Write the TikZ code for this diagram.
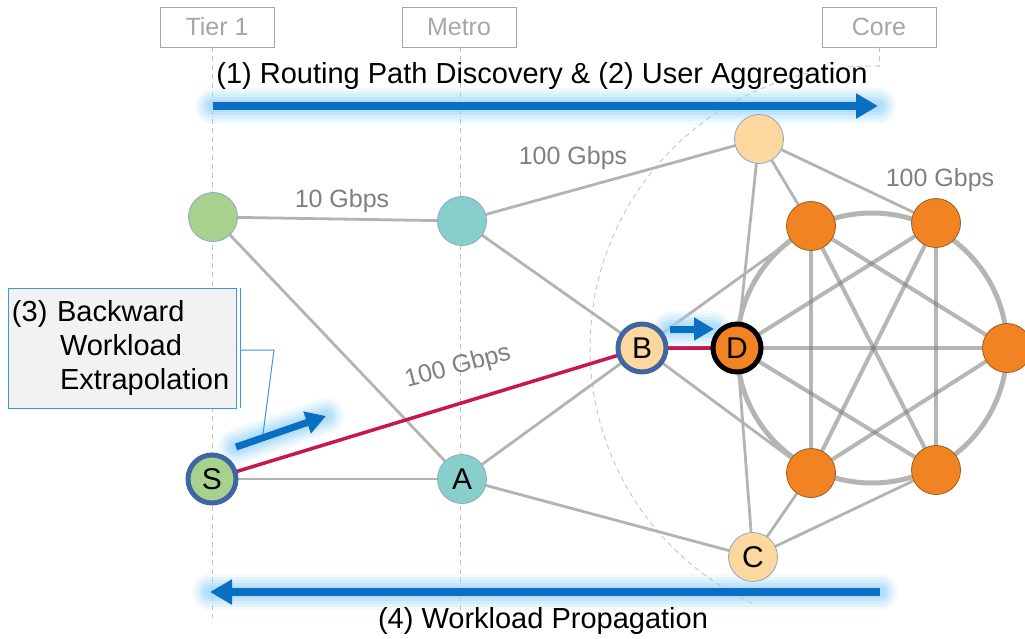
\documentclass[tikz,border=0pt]{standalone}
\usepackage{fontspec}
\setmainfont{Liberation Sans}
\usetikzlibrary{arrows.meta}

\definecolor{linkgray}{HTML}{B3B3B3}
\definecolor{coregray}{HTML}{7A7A7A}
\definecolor{ringgray}{HTML}{B5B5B5}
\definecolor{guidegray}{HTML}{C4C4C4}
\definecolor{tiergray}{HTML}{A6A6A6}
\definecolor{labelgray}{HTML}{7F7F7F}
\definecolor{leafgreen}{HTML}{A9D18E}
\definecolor{metroteal}{HTML}{88CFCC}
\definecolor{paleorange}{HTML}{FCD79E}
\definecolor{coreorange}{HTML}{F28323}
\definecolor{orangerim}{HTML}{9C5A1C}
\definecolor{thinrim}{HTML}{8EA6C4}
\definecolor{rimblue}{HTML}{3F66A3}
\definecolor{pathred}{HTML}{C8164F}
\definecolor{flowblue}{HTML}{0A6FC2}
\definecolor{glowblue}{HTML}{9AD5F7}
\definecolor{calloutblue}{HTML}{3A9AD9}
\definecolor{calloutfill}{HTML}{F2F2F2}

\tikzset{
  vertex/.style={circle, minimum size=49pt, inner sep=0pt, draw=thinrim,
    line width=0.8pt, font=\fontsize{30}{30}\selectfont},
  corenode/.style={vertex, fill=coreorange, draw=orangerim},
  link/.style={draw=linkgray, line width=2.8pt},
  coreline/.style={draw=coregray, line width=4pt, opacity=0.55},
  ring/.style={draw=ringgray, line width=5pt},
  redpath/.style={draw=pathred, line width=3.5pt},
  guide/.style={draw=guidegray, line width=0.9pt, dash pattern=on 5pt off 4pt},
  tierbox/.style={draw=tiergray, line width=0.9pt, text=tiergray,
    minimum width=114pt, minimum height=40pt, inner sep=0pt,
    font=\fontsize{25}{26}\selectfont},
  speed/.style={text=labelgray, inner sep=0pt, font=\fontsize{25}{26}\selectfont},
  caption/.style={text=black, inner sep=0pt, font=\fontsize{29}{34}\selectfont},
  flowarrow/.style={draw=flowblue, line width=8pt,
    -{Triangle[length=22pt, width=24pt]}},
  smallflow/.style={draw=flowblue, line width=7pt,
    -{Triangle[length=20pt, width=22pt]}},
}

% soft halo under a flow arrow
\newcommand{\halo}[2]{%
  \foreach \w/\o in {36/0.12, 30/0.16, 24/0.22, 18/0.32, 12/0.4}{%
    \draw[draw=glowblue, line width=\w pt, opacity=\o, line cap=round] (#1) -- (#2);}%
}

\begin{document}
\begin{tikzpicture}[x=1pt, y=-1pt]
\useasboundingbox (0,0) rectangle (1025,638);
\clip (0,0) rectangle (1025,638);

% tier headers and their guide lines
\node[tierbox] (tier1) at (217,27) {Tier 1};
\node[tierbox] (metro) at (459,27) {Metro};
\node[tierbox] (core)  at (879,27) {Core};
\coordinate (tier1end) at (212,618);
\coordinate (tier1top) at (212,47);
\coordinate (metroend) at (460,618);
\coordinate (metrotop) at (460,47);
\coordinate (arctop) at (879.9,66.1);
\draw[guide] (tier1top) -- (tier1end);
\draw[guide] (metrotop) -- (metroend);
\draw[guide] (core.south -| arctop) -- (arctop);
\draw[guide] (arctop) arc[start angle=271.6, end angle=115, radius=282];

% node positions
\coordinate (pg1) at (213,217);
\coordinate (pm1) at (462,221);
\coordinate (ps)  at (212,479);
\coordinate (pa)  at (462,479);
\coordinate (pb)  at (642,348);
\coordinate (pd)  at (737,348);
\coordinate (pt)  at (759,139);
\coordinate (pc)  at (753,557);
\coordinate (ptl) at (811,226);
\coordinate (ptr) at (936,223);
\coordinate (pr)  at (1007,348);
\coordinate (pbl) at (811,473);
\coordinate (pbr) at (936,470);

% invisible placeholders so links can be drawn first
\foreach \n in {g1,m1,s,a,b,d,t,c,tl,tr,r,bl,br}{
  \node[circle, minimum size=49pt, inner sep=0pt] (\n) at (p\n) {};
}

% access and metro links
\draw[link] (g1) -- (m1);
\draw[link] (g1) -- (a);
\draw[link] (m1) -- (t);
\draw[link] (m1) -- (b);
\draw[link] (s) -- (a);
\draw[link] (a) -- (b);
\draw[link] (a) -- (c);
\draw[link] (b) -- (tl);
\draw[link] (b) -- (bl);
\draw[link] (t) -- (tl);
\draw[link] (t) -- (tr);
\draw[link] (t) -- (d);
\draw[link] (d) -- (c);
\draw[link] (c) -- (bl);
\draw[link] (c) -- (br);

% core ring and full mesh
\draw[ring] (872,348) circle[radius=135];
\draw[coreline] (d) -- (tr);
\draw[coreline] (d) -- (r);
\draw[coreline] (d) -- (br);
\draw[coreline] (tl) -- (r);
\draw[coreline] (tl) -- (br);
\draw[coreline] (tl) -- (bl);
\draw[coreline] (tr) -- (br);
\draw[coreline] (tr) -- (bl);
\draw[coreline] (r) -- (bl);

% selected route
\draw[redpath] (s) -- (b);
\draw[redpath] (b) -- (d);

% halos of the flow arrows
\coordinate (topA1) at (213,106);
\coordinate (topA2) at (878,106);
\coordinate (botA1) at (880,592);
\coordinate (botA2) at (210,592);
\coordinate (sA1) at (236,447);
\coordinate (sA2) at (326,416);
\coordinate (bA1) at (670,329);
\coordinate (bA2) at (714,329);
\halo{topA1}{topA2}
\halo{botA1}{botA2}
\halo{sA1}{sA2}
\halo{bA1}{bA2}

% vertices
\node[vertex, fill=leafgreen] (G1) at (pg1) {};
\node[vertex, fill=metroteal] (M1) at (pm1) {};
\node[vertex, fill=leafgreen, draw=rimblue, line width=5pt, minimum size=48pt] (S) at (ps) {S};
\node[vertex, fill=metroteal] (A) at (pa) {A};
\node[vertex, fill=paleorange, draw=rimblue, line width=5pt, minimum size=48pt] (B) at (pb) {B};
\node[vertex, fill=coreorange, draw=black, line width=5pt, minimum size=48pt] (D) at (pd) {D};
\node[vertex, fill=paleorange] (T) at (pt) {};
\node[vertex, fill=paleorange] (C) at (pc) {C};
\node[corenode] (TL) at (ptl) {};
\node[corenode] (TR) at (ptr) {};
\node[corenode] (R)  at (pr) {};
\node[corenode] (BL) at (pbl) {};
\node[corenode] (BR) at (pbr) {};

% link capacities
\node[speed] (cap10) at (342,201) {10 Gbps};
\node[speed] (capmt) at (573,158) {100 Gbps};
\node[speed] (capcore) at (940,180) {100 Gbps};
\node[speed, rotate=15] (capsb) at (458,367) {100 Gbps};

% callout
\node[draw=calloutblue, fill=calloutfill, line width=1pt, minimum width=228pt,
  minimum height=120pt, text width=220pt, align=left, inner xsep=4pt,
  caption, inner sep=4pt] (callout) at (122,348)
  {(3) Backward\\\hspace*{48pt}Workload\\\hspace*{48pt}Extrapolation};
\coordinate (brtop) at (240,288);
\coordinate (brbot) at (240,408);
\coordinate (brmid) at (240,350);
\coordinate (elbow) at (274,350);
\coordinate (tipc) at (263,434);
\draw[calloutblue, line width=1pt] (brtop) -- (brbot);
\draw[calloutblue, line width=1pt] (brmid) -- (elbow) -- (tipc);

% flow arrows
\draw[flowarrow] (topA1) -- (topA2);
\draw[flowarrow] (botA1) -- (botA2);
\draw[smallflow] (sA1) -- (sA2);
\draw[smallflow] (bA1) -- (bA2);

% phase captions
\node[caption] (phase12) at (542,76) {(1) Routing Path Discovery \& (2) User Aggregation};
\node[caption] (phase4) at (543,621) {(4) Workload Propagation};
\end{tikzpicture}
\end{document}
